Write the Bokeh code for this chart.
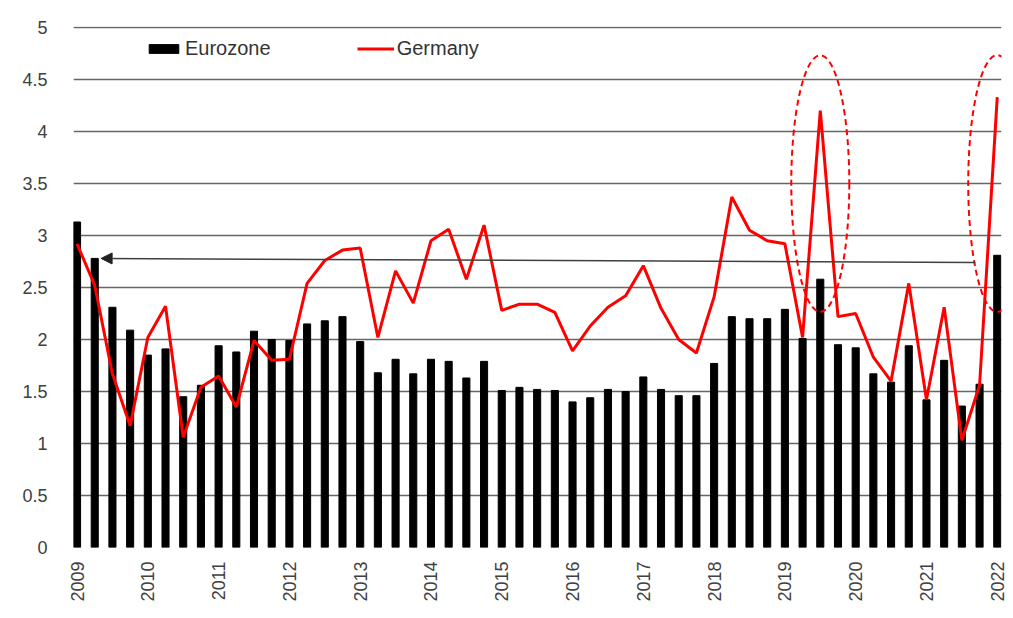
import math
from bokeh.plotting import figure
from bokeh.models import (Range1d, FixedTicker, NumeralTickFormatter, Legend,
                          LegendItem, Arrow, NormalHead)
from bokeh.embed import file_html
from bokeh.resources import INLINE

# ---------------- data ----------------
years = list(range(2009, 2023))
quarters = [y + q * 0.25 for y in years for q in range(4)][:53]  # 2009Q1 .. 2022Q1

eurozone = [3.13, 2.78, 2.31, 2.09, 1.85, 1.91, 1.45, 1.56, 1.94, 1.88,
            2.08, 2.00, 1.99, 2.15, 2.18, 2.22, 1.98, 1.68, 1.81, 1.67,
            1.81, 1.79, 1.63, 1.79, 1.51, 1.54, 1.52, 1.51, 1.40, 1.44,
            1.52, 1.50, 1.64, 1.52, 1.46, 1.46, 1.77, 2.22, 2.20, 2.20,
            2.29, 2.01, 2.58, 1.95, 1.92, 1.67, 1.59, 1.94, 1.42, 1.80,
            1.36, 1.57, 2.81]

germany = [2.92, 2.52, 1.67, 1.17, 2.02, 2.32, 1.06, 1.54, 1.65, 1.35,
           1.99, 1.80, 1.81, 2.54, 2.76, 2.86, 2.88, 2.02, 2.66, 2.35,
           2.95, 3.06, 2.58, 3.10, 2.28, 2.34, 2.34, 2.26, 1.89, 2.13,
           2.31, 2.42, 2.71, 2.30, 2.00, 1.87, 2.41, 3.37, 3.05, 2.95,
           2.92, 2.02, 4.20, 2.22, 2.25, 1.83, 1.60, 2.54, 1.42, 2.31,
           1.03, 1.56, 4.33]

y_ticks = [0, 0.5, 1, 1.5, 2, 2.5, 3, 3.5, 4, 4.5, 5]

# highlighted spikes (quarter indexes) for the dashed ellipses
highlight_idx = [42, 52]

FONT = "Liberation Sans"

p = figure(frame_width=928, frame_height=521, output_backend="svg",
           toolbar_location=None,
           x_range=Range1d(2008.95, 2022.06), y_range=Range1d(0, 5.01),
           min_border_left=73, min_border_top=26, min_border_right=12,
           min_border_bottom=70)
p.outline_line_color = None
p.background_fill_color = "white"

# grid
p.xgrid.grid_line_color = None
p.ygrid.ticker = FixedTicker(ticks=y_ticks)
p.ygrid.grid_line_color = "#666666"
p.ygrid.grid_line_width = 1.5

# axes
p.yaxis.ticker = FixedTicker(ticks=y_ticks)
p.yaxis.formatter = NumeralTickFormatter(format="0.[0]")
p.yaxis.axis_line_color = None
p.yaxis.major_tick_line_color = None
p.yaxis.minor_tick_line_color = None
p.yaxis.major_label_standoff = 20
p.yaxis.major_label_text_font = FONT
p.yaxis.major_label_text_font_size = "18px"
p.yaxis.major_label_text_color = "#404040"

p.xaxis.ticker = FixedTicker(ticks=years)
p.xaxis.axis_line_color = None
p.xaxis.major_tick_line_color = None
p.xaxis.minor_tick_line_color = None
p.xaxis.major_tick_out = 0
p.xaxis.major_label_orientation = math.pi / 2
p.xaxis.major_label_standoff = 14
p.xaxis.major_label_text_font = FONT
p.xaxis.major_label_text_font_size = "18px"
p.xaxis.major_label_text_color = "#404040"

# glyphs
r_bar = p.vbar(x=quarters, top=eurozone, width=0.1, bottom=0,
               fill_color="black", line_color="black")
r_line = p.line(quarters, germany, line_color="#ff0000", line_width=3)

# dashed ellipses around spikes
ex = [quarters[i] for i in highlight_idx]
p.ellipse(x=ex, y=[3.5] * len(ex), width=0.82, height=2.47,
          fill_color=None, line_color="#ff0000", line_width=2, line_dash="6 4")

# arrow back to 2009 level
p.add_layout(Arrow(end=NormalHead(size=11, fill_color="#222222", line_color="#222222"),
                   x_start=quarters[-1] - 0.31, y_start=2.74,
                   x_end=quarters[1] + 0.09, y_end=2.78,
                   line_color="#404040", line_width=1.5))

legend = Legend(items=[LegendItem(label="Eurozone", renderers=[r_bar]),
                       LegendItem(label="Germany", renderers=[r_line])],
                orientation="horizontal", location=(72, 487),
                glyph_width=37, glyph_height=11, label_height=11,
                label_standoff=3, spacing=86, padding=0, margin=0,
                border_line_color=None, background_fill_alpha=0,
                label_text_font=FONT, label_text_font_size="20px",
                label_text_color="#333333")
p.add_layout(legend)

open("out.html", "w").write(file_html(p, INLINE))
